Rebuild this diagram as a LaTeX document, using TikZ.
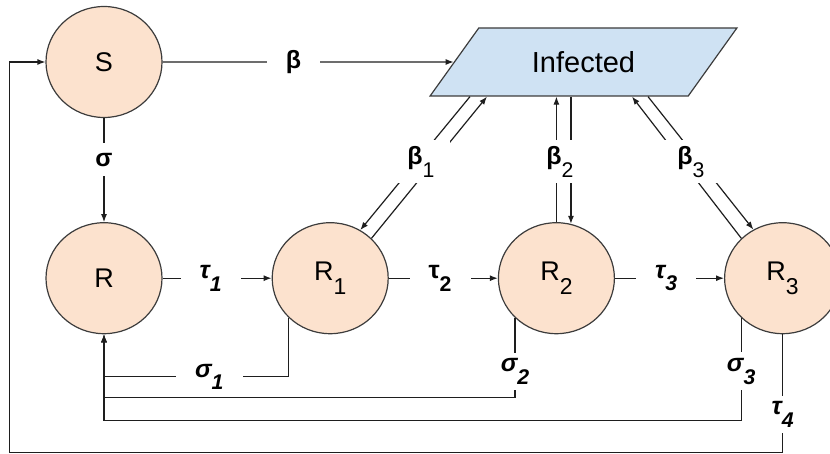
\documentclass[tikz,border=0pt]{standalone}
\usepackage{fontspec}
\setmainfont{Liberation Sans}
\usepackage{graphicx}
\usepackage{tikz}
\usetikzlibrary{arrows.meta,positioning,calc,shapes.geometric}
\usepackage{xcolor}
\definecolor{peach}{RGB}{252,226,206}
\definecolor{skyblue}{RGB}{207,226,243}
\definecolor{edge}{RGB}{60,60,60}
\definecolor{ink}{RGB}{30,30,30}
\newcommand{\lowsub}[1]{\raisebox{-0.5em}{\scalebox{0.85}{#1}}}

\begin{document}
\begin{tikzpicture}[x=1pt,y=-1pt,node distance=104pt and 109pt,
state/.style={ellipse,draw=edge,fill=peach,line width=1.2pt,minimum width=116pt,
minimum height=111pt,inner sep=0pt,font=\fontsize{27}{27}\selectfont},
lbl/.style={fill=white,inner xsep=19pt,inner ysep=6pt,font=\fontsize{25}{25}\selectfont\bfseries},
pair/.style={lbl,inner sep=0pt,minimum width=58pt,minimum height=43pt},
flow/.style={-{Latex[length=8pt,width=6pt]},line width=1.2pt,draw=ink}]
\useasboundingbox (0,0) rectangle (830,454);
\node[state] (S) at (104,62) {S};
\node[state,below=of S] (R) {R};
\node[state,right=of R] (R1) {R\lowsub{1}};
\node[state,right=of R1] (R2) {R\lowsub{2}};
\node[state,right=of R2] (R3) {R\lowsub{3}};
\node[trapezium,trapezium left angle=47.6,trapezium right angle=132.4,trapezium stretches=true,
draw=edge,fill=skyblue,line width=1.2pt,minimum width=307pt,minimum height=68pt,
font=\fontsize{29}{29}\selectfont] (inf) at (583.5,62) {Infected};
% S to infected and R
\draw[flow] (S) -- node[lbl,pos=0.45] (lb) {β} (inf);
\draw[flow] (S) -- node[lbl,pos=0.4,inner ysep=10pt] (ls) {σ} (R);
% chain of R's
\draw[flow] (R) -- node[lbl,pos=0.44] (lt1) {\itshape τ\lowsub{1}} (R1);
\draw[flow] (R1) -- node[lbl,pos=0.47] (lt2) {τ\lowsub{2}} (R2);
\draw[flow] (R2) -- node[lbl,pos=0.47] (lt3) {\itshape τ\lowsub{3}} (R3);
% back and forth with infected
\draw[flow] ($(inf.center |- inf.south)+(-113.5,0)$) -- (R1.58);
\draw[flow] (R1.44) -- ($(inf.center |- inf.south)+(-96.5,0)$);
\draw[flow] (R2.north) -- (R2.north |- inf.south);
\draw[flow] (R2.75 |- inf.south) -- (R2.75);
\draw[flow] (R3.136) -- ($(inf.center |- inf.south)+(48.5,0)$);
\draw[flow] ($(inf.center |- inf.south)+(64.5,0)$) -- (R3.121);
\node[pair] (lb1) at (421,162) {β\lowsub{\mdseries 1}};
\node[pair] (lb2) at (560,162) {β\lowsub{\mdseries 2}};
\node[pair] (lb3) at (691,162) {β\lowsub{\mdseries 3}};
% waning back to R
\draw[flow] (R1.south west) -- ++(0,59) coordinate (c1)
-- node[lbl,pos=0.43] (ls1) {\itshape σ\lowsub{1}} (c1 -| R) -- (R.south);
\draw[flow] (R2.south west) -- node[lbl,pos=0.67] (ls2) {\itshape σ\lowsub{2}} ++(0,80)
coordinate (c2) -- (c2 -| R) -- (R.south);
\draw[flow] (R3.south west) -- node[lbl,pos=0.52] (ls3) {\itshape σ\lowsub{3}} ++(0,103)
coordinate (c3) -- (c3 -| R) -- (R.south);
\draw[flow] (R3.south) -- node[lbl,pos=0.68] (lt4) {\itshape τ\lowsub{4}} ++(0,118)
coordinate (c4) -- ++(-773,0) coordinate (c5) -- (c5 |- S) -- (S);
\end{tikzpicture}
\end{document}
